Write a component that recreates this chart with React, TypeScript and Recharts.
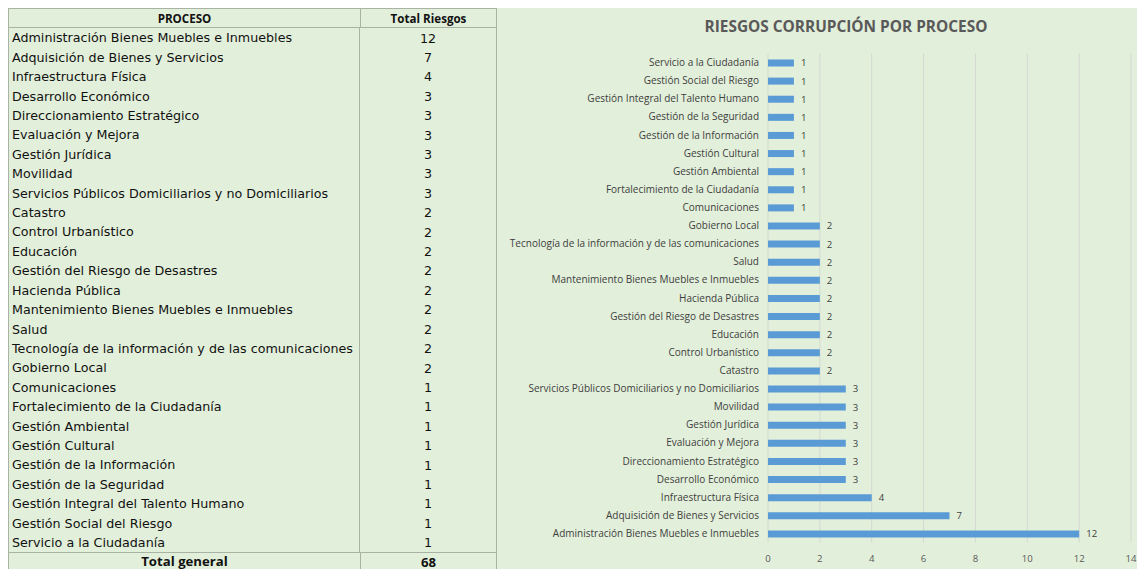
import { BarChart, Bar, XAxis, YAxis, CartesianGrid, LabelList } from 'recharts';

// Procesos en el orden de la tabla (de mayor a menor)
const procesos = [
  'Administración Bienes Muebles e Inmuebles',
  'Adquisición de Bienes y Servicios',
  'Infraestructura Física',
  'Desarrollo Económico',
  'Direccionamiento Estratégico',
  'Evaluación y Mejora',
  'Gestión Jurídica',
  'Movilidad',
  'Servicios Públicos Domiciliarios y no Domiciliarios',
  'Catastro',
  'Control Urbanístico',
  'Educación',
  'Gestión del Riesgo de Desastres',
  'Hacienda Pública',
  'Mantenimiento Bienes Muebles e Inmuebles',
  'Salud',
  'Tecnología de la información y de las comunicaciones',
  'Gobierno Local',
  'Comunicaciones',
  'Fortalecimiento de la Ciudadanía',
  'Gestión Ambiental',
  'Gestión Cultural',
  'Gestión de la Información',
  'Gestión de la Seguridad',
  'Gestión Integral del Talento Humano',
  'Gestión Social del Riesgo',
  'Servicio a la Ciudadanía',
];

const totalRiesgos = [12, 7, 4, 3, 3, 3, 3, 3, 3, 2, 2, 2, 2, 2, 2, 2, 2, 2, 1, 1, 1, 1, 1, 1, 1, 1, 1];

const xTicks = [0, 2, 4, 6, 8, 10, 12, 14];

const totalGeneral = 68;

const GREEN = '#e2efda';
const BORDER = '#a9b3a4';
const ROW_H = 19.42;
const CHART_FONT = '"Open Sans", sans-serif';

const rows = procesos.map((p, i) => ({ proceso: p, total: totalRiesgos[i] }));
// en el gráfico el primer elemento queda arriba
const chartData = [...rows].reverse();

// etiqueta del eje en una sola línea (sin ajuste de texto)
function ProcesoTick({ x, y, payload }: any) {
  return (
    <text
      x={x}
      y={y}
      dy={3.5}
      textAnchor="end"
      fontSize={10}
      fill="#404040"
      fontFamily={CHART_FONT}
    >
      {payload.value}
    </text>
  );
}

function Tabla() {
  const cellText: React.CSSProperties = {
    fontFamily: '"DejaVu Sans", sans-serif',
    fontSize: 12.7,
    color: '#111',
  };
  return (
    <div
      style={{
        width: 488,
        background: GREEN,
        border: `1px solid ${BORDER}`,
        borderRight: 'none',
        boxSizing: 'border-box',
      }}
    >
      <div
        style={{
          display: 'flex',
          height: ROW_H,
          borderBottom: `1px solid ${BORDER}`,
          boxSizing: 'border-box',
          fontFamily: CHART_FONT,
          fontWeight: 700,
          fontSize: 11.6,
          color: '#111',
          alignItems: 'center',
        }}
      >
        <div style={{ width: 351, textAlign: 'center', borderRight: `1px solid ${BORDER}`, height: '100%', lineHeight: `${ROW_H}px` }}>
          PROCESO
        </div>
        <div style={{ flex: 1, textAlign: 'center' }}>Total Riesgos</div>
      </div>
      {rows.map((r) => (
        <div key={r.proceso} style={{ display: 'flex', height: ROW_H, alignItems: 'center' }}>
          <div
            style={{
              ...cellText,
              width: 351,
              paddingLeft: 3,
              boxSizing: 'border-box',
              borderRight: `1px solid ${BORDER}`,
              height: '100%',
              lineHeight: `${ROW_H}px`,
              whiteSpace: 'nowrap',
            }}
          >
            {r.proceso}
          </div>
          <div style={{ ...cellText, flex: 1, textAlign: 'center' }}>{r.total}</div>
        </div>
      ))}
      <div
        style={{
          display: 'flex',
          height: ROW_H,
          borderTop: `1px solid ${BORDER}`,
          boxSizing: 'border-box',
          fontFamily: CHART_FONT,
          fontWeight: 700,
          fontSize: 13.2,
          color: '#111',
          alignItems: 'center',
        }}
      >
        <div style={{ width: 351, textAlign: 'center', borderRight: `1px solid ${BORDER}`, height: '100%', lineHeight: `${ROW_H - 2}px` }}>
          Total general
        </div>
        <div style={{ flex: 1, textAlign: 'center', lineHeight: `${ROW_H - 2}px` }}>{totalGeneral}</div>
      </div>
    </div>
  );
}

function Grafico() {
  return (
    <div
      style={{
        position: 'relative',
        width: 648,
        height: 569,
        marginTop: -8,
        background: GREEN,
        borderTop: '5px solid #e4e4e4',
        borderLeft: `1px solid ${BORDER}`,
        boxSizing: 'border-box',
      }}
    >
      <div
        style={{
          position: 'absolute',
          top: 11,
          left: 349 - 200,
          width: 400,
          textAlign: 'center',
          fontFamily: CHART_FONT,
          fontWeight: 700,
          fontSize: 15.4,
          color: '#595959',
        }}
      >
        RIESGOS CORRUPCIÓN POR PROCESO
      </div>
      <BarChart
        width={647}
        height={564}
        data={chartData}
        layout="vertical"
        margin={{ top: 48.5, right: 13, bottom: 0, left: 0 }}
        barCategoryGap={0}
      >
        <CartesianGrid horizontal={false} stroke="#d4d9d1" />
        <XAxis
          type="number"
          domain={[0, 14]}
          ticks={xTicks}
          axisLine={false}
          tickLine={false}
          tickMargin={7}
          height={26.5}
          tick={{ fontSize: 9.6, fill: '#595959', fontFamily: CHART_FONT }}
        />
        <YAxis
          type="category"
          dataKey="proceso"
          width={271}
          axisLine={false}
          tickLine={false}
          tickMargin={9}
          tickSize={0}
          interval={0}
          tick={<ProcesoTick />}
        />
        <Bar dataKey="total" fill="#5b9bd5" barSize={7} isAnimationActive={false}>
          <LabelList
            dataKey="total"
            position="right"
            offset={7}
            style={{ fontSize: 9.6, fill: '#404040', fontFamily: CHART_FONT }}
          />
        </Bar>
      </BarChart>
    </div>
  );
}

export default function App() {
  return (
    <div style={{ display: 'flex', alignItems: 'flex-start', width: 1137, height: 561, overflow: 'hidden' }}>
      <Tabla />
      <Grafico />
    </div>
  );
}
